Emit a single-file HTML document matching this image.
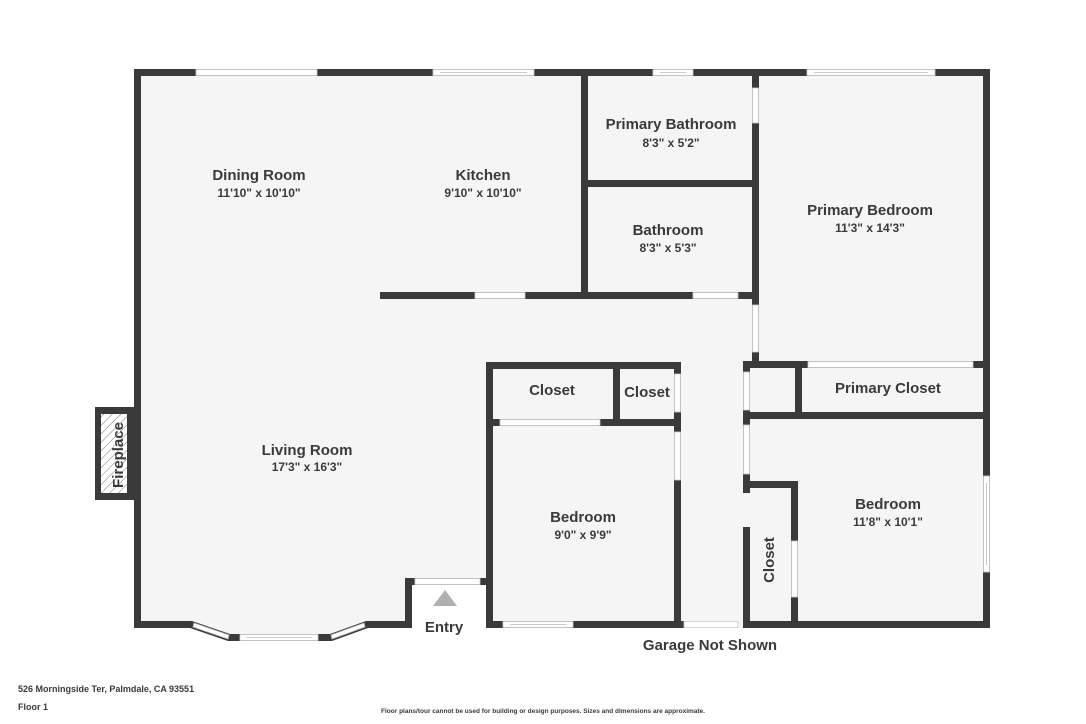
<!DOCTYPE html>
<html><head><meta charset="utf-8"><style>
html,body{margin:0;padding:0;background:#fff;}
svg{display:block;}
text{font-family:"Liberation Sans","DejaVu Sans",sans-serif;fill:#3a3a3a;font-weight:bold;}
.t{font-size:15px;text-anchor:middle;}
.d{font-size:12px;text-anchor:middle;}
</style></head><body>
<svg width="1086" height="724" viewBox="0 0 1086 724" xmlns="http://www.w3.org/2000/svg">
<defs>
<pattern id="h" width="6" height="6" patternUnits="userSpaceOnUse" patternTransform="rotate(45)">
<rect width="6" height="6" fill="#fff"/><line x1="0" y1="0" x2="0" y2="6" stroke="#777" stroke-width="1"/>
</pattern>
</defs>
<!-- floor -->
<polygon points="134,69 990,69 990,628 743,628 412,628 412,578 405,578 405,628 366,622 332,640 228,640 192,622 134,622" fill="#f5f5f5"/>
<rect x="412" y="585" width="74" height="43" fill="#fff"/>
<g fill="#3a3a3a">
<!-- outer top -->
<rect x="134" y="69" width="856" height="7"/>
<rect x="134" y="69" width="7" height="559"/>
<rect x="983" y="69" width="7" height="559"/>
<!-- kitchen/bath vertical -->
<rect x="581" y="69" width="7" height="230"/>
<rect x="588" y="180" width="170" height="7"/>
<rect x="380" y="292" width="378" height="7"/>
<rect x="752" y="69" width="7" height="292"/>
<!-- primary closet -->
<rect x="743" y="361" width="247" height="7"/>
<rect x="795" y="361" width="7" height="55"/>
<rect x="743" y="412" width="247" height="7"/>
<rect x="743" y="361" width="7" height="132"/>
<rect x="743" y="481" width="55" height="7"/>
<rect x="791" y="481" width="7" height="147"/>
<rect x="743" y="527" width="7" height="101"/>
<rect x="743" y="621" width="247" height="7"/>
<!-- middle bedroom -->
<rect x="486" y="362" width="195" height="7"/>
<rect x="486" y="362" width="7" height="266"/>
<rect x="674" y="362" width="7" height="266"/>
<rect x="613" y="362" width="7" height="63"/>
<rect x="486" y="419" width="195" height="7"/>
<rect x="486" y="621" width="198" height="7"/>
<!-- entry -->
<rect x="405" y="578" width="7" height="50"/>
<rect x="405" y="578" width="88" height="7"/>
<!-- living bottom -->
<rect x="134" y="621" width="58" height="7"/>
<rect x="366" y="621" width="46" height="7"/>
<polygon points="192,621 230,634 228,641 190,628"/>
<polygon points="366,621 368,628 332,641 330,634"/>
<rect x="228" y="634" width="104" height="7"/>
<!-- fireplace -->
<rect x="95" y="407" width="40" height="93"/>
</g>
<rect x="101" y="414" width="26" height="79" fill="url(#h)"/>
<!-- openings (white) -->
<g fill="#fff" stroke="#ccc" stroke-width="0.8">
<rect x="196" y="69.5" width="121" height="6"/>
<rect x="433" y="69.5" width="101" height="6"/>
<rect x="653" y="69.5" width="40" height="6"/>
<rect x="807" y="69.5" width="128" height="6"/>
<rect x="752.5" y="88" width="6" height="35"/>
<rect x="475" y="292.5" width="50" height="6"/>
<rect x="693" y="292.5" width="45" height="6"/>
<rect x="752.5" y="305" width="6" height="47"/>
<rect x="808" y="361.5" width="165" height="6"/>
<rect x="743.5" y="372" width="6" height="38"/>
<rect x="743.5" y="425" width="6" height="49"/>
<rect x="791.5" y="541" width="6" height="56"/>
<rect x="983.5" y="476" width="6" height="96"/>
<rect x="684" y="621.5" width="54" height="6"/>
<rect x="674.5" y="374" width="6" height="38"/>
<rect x="674.5" y="432" width="6" height="48"/>
<rect x="500" y="419.5" width="100" height="6"/>
<rect x="503" y="621.5" width="70" height="6"/>
<rect x="415" y="578.5" width="65" height="6"/>
<rect x="240" y="634.5" width="78" height="6"/>
</g>
<g stroke="#bbb" stroke-width="0.8" fill="none">
<line x1="440" y1="72.5" x2="527" y2="72.5"/>
<line x1="660" y1="72.5" x2="686" y2="72.5"/>
<line x1="814" y1="72.5" x2="928" y2="72.5"/>
<line x1="986.5" y1="483" x2="986.5" y2="565"/>
<line x1="510" y1="624.5" x2="566" y2="624.5"/>
<line x1="246" y1="637.5" x2="312" y2="637.5"/>
</g>
<polygon points="194,623 229,635 228,639 193,627" fill="#fff" stroke="#bbb" stroke-width="0.8"/>
<polygon points="364,623 331,635 332,639 365,627" fill="#fff" stroke="#bbb" stroke-width="0.8"/>
<polygon points="445,590 457,606 433,606" fill="#b0b0b0"/>
<!-- labels -->
<text class="t" x="259" y="180">Dining Room</text><text class="d" x="259" y="197">11'10" x 10'10"</text>
<text class="t" x="483" y="180">Kitchen</text><text class="d" x="483" y="197">9'10" x 10'10"</text>
<text class="t" x="671" y="129">Primary Bathroom</text><text class="d" x="671" y="147">8'3" x 5'2"</text>
<text class="t" x="668" y="235">Bathroom</text><text class="d" x="668" y="252">8'3" x 5'3"</text>
<text class="t" x="870" y="215">Primary Bedroom</text><text class="d" x="870" y="232">11'3" x 14'3"</text>
<text class="t" x="888" y="393">Primary Closet</text>
<text class="t" x="552" y="395">Closet</text>
<text class="t" x="647" y="397">Closet</text>
<text class="t" x="307" y="455">Living Room</text><text class="d" x="307" y="471">17'3" x 16'3"</text>
<text class="t" x="583" y="522">Bedroom</text><text class="d" x="583" y="539">9'0" x 9'9"</text>
<text class="t" x="888" y="509">Bedroom</text><text class="d" x="888" y="526">11'8" x 10'1"</text>
<text class="t" transform="translate(774,560) rotate(-90)" x="0" y="0">Closet</text>
<text class="t" transform="translate(123,455) rotate(-90)" x="0" y="0">Fireplace</text>
<text class="t" x="444" y="632">Entry</text>
<text class="t" x="710" y="650">Garage Not Shown</text>
<text x="18" y="692" style="font-size:9px">526 Morningside Ter, Palmdale, CA 93551</text>
<text x="18" y="710" style="font-size:9px">Floor 1</text>
<text x="543" y="713" style="font-size:6.5px;text-anchor:middle">Floor plans/tour cannot be used for building or design purposes. Sizes and dimensions are approximate.</text>
</svg>
</body></html>
